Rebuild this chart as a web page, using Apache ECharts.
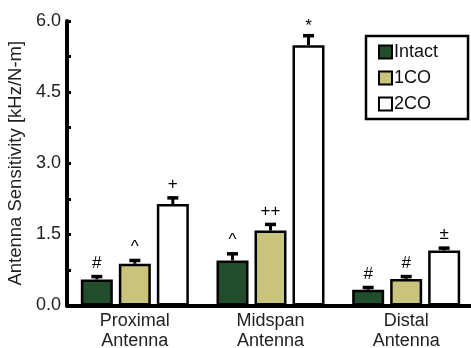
<!DOCTYPE html>
<html><head><meta charset="utf-8">
<script src="https://cdn.jsdelivr.net/npm/echarts@6/dist/echarts.min.js"></script>
<style>html,body{margin:0;padding:0;background:#fff}#c{width:471px;height:348px}</style>
</head><body><div id="c"></div>
<script>
var categories = ['Proximal\nAntenna', 'Midspan\nAntenna', 'Distal\nAntenna'];
var seriesNames = ['Intact', '1CO', '2CO'];
var intact = [0.55, 0.95, 0.33];
var co1 = [0.88, 1.58, 0.56];
var co2 = [2.14, 5.49, 1.16];
var intactErr = [0.06, 0.14, 0.05];
var co1Err = [0.07, 0.13, 0.05];
var co2Err = [0.13, 0.20, 0.05];
var intactMarks = ['#', '^', '#'];
var co1Marks = ['^', '++', '#'];
var co2Marks = ['+', '*', '\u00b1'];
var yTicks = [0, 1.5, 3, 4.5, 6];

var colors = ['#214d2c', '#c9c47b', '#ffffff'];
var values = [intact, co1, co2];
var errs = [intactErr, co1Err, co2Err];
var marks = [intactMarks, co1Marks, co2Marks];
var FONT = '"Liberation Sans", Arial, Helvetica, sans-serif';
var BAR_W = 32, GAP = 6;

var chart = echarts.init(document.getElementById('c'));
var series = [];
seriesNames.forEach(function (name, si) {
  series.push({
    name: name, type: 'bar', barWidth: BAR_W, barGap: (GAP / BAR_W * 100) + '%',
    data: values[si],
    itemStyle: { color: colors[si], borderColor: '#000', borderWidth: 2.5 },
    z: 2
  });
});
seriesNames.forEach(function (name, si) {
  var data = values[si].map(function (v, i) { return [i, v, v + errs[si][i], marks[si][i]]; });
  series.push({
    type: 'custom', silent: true, z: 3,
    data: data,
    renderItem: function (params, api) {
      var off = (si - 1) * (BAR_W + GAP);
      var base = api.coord([api.value(0), api.value(1)]);
      var top = api.coord([api.value(0), api.value(2)]);
      var x = base[0] + off;
      var mk = marks[si][params.dataIndex];
      return {
        type: 'group', children: [
          { type: 'line', shape: { x1: x, y1: base[1], x2: x, y2: top[1] }, style: { stroke: '#000', lineWidth: 3 } },
          { type: 'line', shape: { x1: x - 5.5, y1: top[1], x2: x + 5.5, y2: top[1] }, style: { stroke: '#000', lineWidth: 3.5 } },
          { type: 'text', x: x, y: top[1] - (mk === '*' ? 1 : 5), style: { text: mk, fill: '#000', font: '17px ' + FONT, align: 'center', verticalAlign: 'bottom' } }
        ]
      };
    }
  });
});

chart.setOption({
  animation: false,
  backgroundColor: '#fff',
  grid: { left: 67, right: -3, top: 21, bottom: 42.5, containLabel: false, outerBoundsMode: 'none' },
  legend: {
    data: seriesNames, orient: 'vertical', left: 366, top: 36,
    borderColor: '#000', borderWidth: 2.5, borderRadius: 0,
    padding: [7, 30, 6, 12], itemGap: 8, itemWidth: 13, itemHeight: 13,
    icon: 'rect', textStyle: { fontSize: 18, fontFamily: FONT, color: '#111', padding: [0, 0, 0, -3] }
  },
  xAxis: {
    type: 'category', data: categories,
    axisLine: { lineStyle: { color: '#000', width: 4 } },
    axisTick: { show: false },
    axisLabel: { fontSize: 18, fontFamily: FONT, color: '#222', lineHeight: 20, margin: 6 }
  },
  yAxis: {
    type: 'value', min: 0, max: 6, interval: 1.5,
    name: 'Antenna Sensitivity [kHz/N-m]', nameLocation: 'middle', nameGap: 38,
    nameTextStyle: { fontSize: 18.5, fontFamily: FONT, color: '#222' },
    axisLine: { show: true, lineStyle: { color: '#000', width: 4 } },
    axisTick: { show: true, inside: true, length: 4, lineStyle: { color: '#000', width: 3 } },
    minorTick: { show: true, splitNumber: 2, length: 4, lineStyle: { color: '#000', width: 3 } },
    splitLine: { show: false },
    axisLabel: { fontSize: 18, fontFamily: FONT, color: '#222', margin: 6,
      formatter: function (v) { return yTicks.indexOf(v) >= 0 ? v.toFixed(1) : ''; } }
  },
  series: series
});
</script></body></html>
